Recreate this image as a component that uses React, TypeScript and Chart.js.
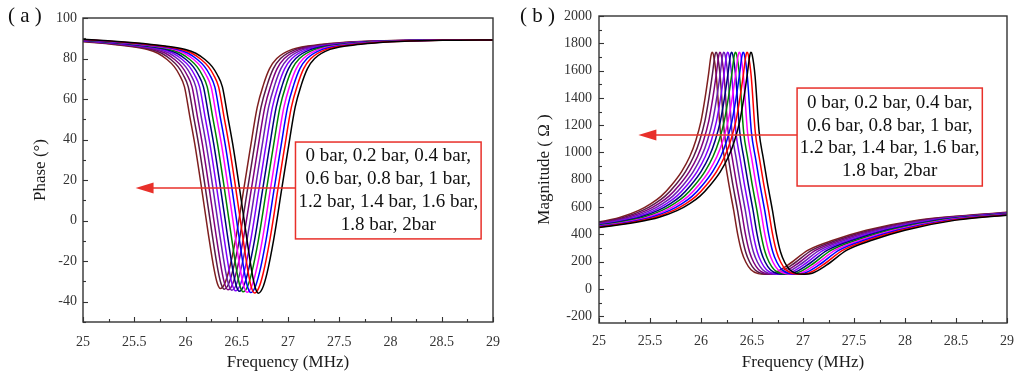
import React, { useEffect, useRef } from 'react';
import { Chart, registerables } from 'chart.js';

Chart.register(...registerables);

// ---------------- data ----------------
const PRESSURES = ['0 bar', '0.2 bar', '0.4 bar', '0.6 bar', '0.8 bar', '1 bar', '1.2 bar', '1.4 bar', '1.6 bar', '1.8 bar', '2 bar'];
const SERIES_COLORS = ['#000000', '#ff0000', '#0000ff', '#ff00ff', '#008000', '#000080', '#8000ff', '#6a1fb0', '#800080', '#5a1a4a', '#7f1f1f'];

// Phase panel (a): dip frequency (MHz) and dip depth (deg) of each pressure curve
const PHASE_DIP_FREQ = [26.71, 26.673, 26.636, 26.6, 26.562, 26.525, 26.488, 26.451, 26.414, 26.377, 26.34];
const PHASE_DIP_DEPTH = [-35.8, -35.7, -35.5, -35.3, -35.1, -34.8, -34.6, -34.3, -34.1, -33.8, -33.5];
// phase curve shape: offset from dip (MHz) -> phase (deg)
const PHASE_OFFSETS = [-1.95, -1.71, -1.21, -0.91, -0.71, -0.61, -0.52, -0.45, -0.40, -0.35, -0.30, -0.25, -0.18, -0.12, -0.06, -0.03, 0, 0.04, 0.085, 0.15, 0.23, 0.29, 0.36, 0.42, 0.48, 0.55, 0.7, 1.0, 1.3, 1.8, 2.3, 2.75];
const PHASE_PROFILE = [89.8, 89.5, 87.8, 86.2, 84.5, 82.6, 79.5, 76, 72, 66, 52, 38, 15, -6, -26, -33, -35.8, -33.5, -26, -9.5, 16, 35, 56, 67, 75, 80, 84.5, 87, 88.3, 89, 89.2, 89.3];

// Magnitude panel (b): peak frequency (MHz) of each pressure curve
const MAG_PEAK_FREQ = [26.49, 26.452, 26.414, 26.376, 26.338, 26.3, 26.262, 26.224, 26.186, 26.148, 26.11];
// magnitude curve shape: offset from peak (MHz) -> magnitude (ohm)
const MAG_OFFSETS = [-1.9, -1.49, -1.11, -0.9, -0.72, -0.6, -0.5, -0.4, -0.3, -0.22, -0.16, -0.11, -0.07, -0.035, -0.012, 0, 0.012, 0.04, 0.08, 0.12, 0.16, 0.21, 0.25, 0.29, 0.33, 0.38, 0.45, 0.52, 0.6, 0.74, 0.94, 1.2, 1.51, 2.01, 2.51, 2.95];
const MAG_PROFILE = [420, 450, 490, 525, 575, 625, 680, 760, 860, 970, 1090, 1230, 1400, 1580, 1710, 1735, 1715, 1560, 1150, 960, 780, 577, 400, 270, 195, 140, 112, 108, 115, 174, 284, 360, 430, 504, 540, 565];

const FREQ_TICKS = [25, 25.5, 26, 26.5, 27, 27.5, 28, 28.5, 29];
const PHASE_TICKS = [-40, -20, 0, 20, 40, 60, 80, 100];
const MAG_TICKS = [-200, 0, 200, 400, 600, 800, 1000, 1200, 1400, 1600, 1800, 2000];
const ANNOTATION_LINES = ['0 bar, 0.2 bar, 0.4 bar,', '0.6 bar, 0.8 bar, 1 bar,', '1.2 bar, 1.4 bar, 1.6 bar,', '1.8 bar, 2bar'];

// ---------------- styling ----------------
const FONT = "'Liberation Serif', 'Times New Roman', serif";
const AXIS_COLOR = '#333333';
const ANNOT_RED = '#e8302a';

const PHASE_MIN = Math.min(...PHASE_PROFILE);

function phaseDatasets() {
  return PRESSURES.map((p, i) => ({
    label: p,
    data: PHASE_OFFSETS.map((o, k) => {
      const v = PHASE_PROFILE[k];
      return { x: PHASE_DIP_FREQ[i] + o, y: v < 0 ? v * (PHASE_DIP_DEPTH[i] / PHASE_MIN) : v };
    }),
    borderColor: SERIES_COLORS[i],
    backgroundColor: SERIES_COLORS[i],
  }));
}

function magDatasets() {
  return PRESSURES.map((p, i) => ({
    label: p,
    data: MAG_OFFSETS.map((o, k) => ({ x: MAG_PEAK_FREQ[i] + o, y: MAG_PROFILE[k] })),
    borderColor: SERIES_COLORS[i],
    backgroundColor: SERIES_COLORS[i],
  }));
}

const decorPlugin = {
  id: 'decor',
  afterDatasetsDraw(chart: any, _args: any, opts: any) {
    const { ctx, chartArea: a, scales } = chart;
    const x = scales.x;
    const y = scales.y;
    ctx.save();
    // ticks (inward)
    ctx.strokeStyle = AXIS_COLOR;
    ctx.lineWidth = 1.1;
    const isMajor = (v: number, m: number) => Math.abs(v / m - Math.round(v / m)) < 1e-6;
    const nx = Math.round((x.max - x.min) / opts.xMinor);
    for (let k = 0; k <= nx; k++) {
      const v = x.min + k * opts.xMinor;
      const px = Math.round(x.getPixelForValue(v)) + 0.5;
      const len = isMajor(v, opts.xMajor) ? 5 : 3;
      ctx.beginPath();
      ctx.moveTo(px, a.bottom);
      ctx.lineTo(px, a.bottom - len);
      ctx.stroke();
    }
    const ny = Math.round((y.max - opts.yStart) / opts.yMinor);
    for (let k = 0; k <= ny; k++) {
      const v = opts.yStart + k * opts.yMinor;
      const py = Math.round(y.getPixelForValue(v)) + 0.5;
      const len = isMajor(v, opts.yMajor) ? 5 : 3;
      ctx.beginPath();
      ctx.moveTo(a.left, py);
      ctx.lineTo(a.left + len, py);
      ctx.stroke();
    }
    // frame
    ctx.lineWidth = 1.4;
    ctx.strokeRect(a.left, a.top, a.right - a.left, a.bottom - a.top);

    // annotation box + arrow
    const b = opts.box;
    const bx0 = x.getPixelForValue(b.x0);
    const bx1 = x.getPixelForValue(b.x1);
    const by0 = y.getPixelForValue(b.y0);
    const by1 = y.getPixelForValue(b.y1);
    ctx.fillStyle = '#ffffff';
    ctx.fillRect(bx0, by0, bx1 - bx0, by1 - by0);
    ctx.strokeStyle = ANNOT_RED;
    ctx.lineWidth = 1.5;
    ctx.strokeRect(bx0, by0, bx1 - bx0, by1 - by0);
    const ay = y.getPixelForValue(b.arrowY);
    const ax = x.getPixelForValue(b.arrowX);
    ctx.beginPath();
    ctx.moveTo(bx0, ay);
    ctx.lineTo(ax + 14, ay);
    ctx.stroke();
    ctx.fillStyle = ANNOT_RED;
    ctx.beginPath();
    ctx.moveTo(ax, ay);
    ctx.lineTo(ax + 18, ay - 5.5);
    ctx.lineTo(ax + 18, ay + 5.5);
    ctx.closePath();
    ctx.fill();

    ctx.fillStyle = '#111111';
    ctx.font = `19px ${FONT}`;
    ctx.textAlign = 'center';
    ctx.textBaseline = 'middle';
    const cx = (bx0 + bx1) / 2;
    const cy = (by0 + by1) / 2;
    ANNOTATION_LINES.forEach((t, i) => {
      ctx.fillText(t, cx, cy + (i - (ANNOTATION_LINES.length - 1) / 2) * 22.7);
    });

    // panel label
    ctx.textAlign = 'left';
    ctx.font = `21px ${FONT}`;
    ctx.fillText(opts.label, 8, 16);
    ctx.restore();
  },
};

function buildConfig(c: any): any {
  return {
    type: 'line',
    data: { datasets: c.datasets },
    options: {
      animation: false,
      responsive: false,
      maintainAspectRatio: false,
      layout: { padding: c.padding },
      elements: {
        point: { radius: 0, hoverRadius: 0 },
        line: { borderWidth: 1.5, cubicInterpolationMode: 'monotone' },
      },
      plugins: {
        legend: { display: false },
        tooltip: { enabled: false },
        decor: c.decor,
      },
      scales: {
        x: {
          type: 'linear',
          min: 25,
          max: 29,
          afterBuildTicks: (s: any) => {
            s.ticks = FREQ_TICKS.map((v) => ({ value: v }));
          },
          afterFit: (s: any) => {
            s.height = c.xHeight;
          },
          grid: { display: false, drawTicks: false },
          border: { display: false },
          ticks: {
            padding: c.xLabelPad,
            color: AXIS_COLOR,
            font: { family: FONT, size: 14 },
            maxRotation: 0,
            autoSkip: false,
            callback: (v: any) => String(v),
          },
          title: {
            display: true,
            text: 'Frequency (MHz)',
            color: '#1a1a1a',
            font: { family: FONT, size: 17 },
            padding: { top: 0, bottom: 5 },
          },
        },
        y: {
          type: 'linear',
          min: c.yMin,
          max: c.yMax,
          afterBuildTicks: (s: any) => {
            s.ticks = c.yTicks.map((v: number) => ({ value: v }));
          },
          afterFit: (s: any) => {
            s.width = c.yWidth;
          },
          grid: { display: false, drawTicks: false },
          border: { display: false },
          ticks: {
            padding: c.yLabelPad,
            color: AXIS_COLOR,
            font: { family: FONT, size: 14 },
            autoSkip: false,
            callback: (v: any) => String(v),
          },
          title: {
            display: true,
            text: c.yTitle,
            color: '#1a1a1a',
            font: { family: FONT, size: 17 },
            padding: { top: c.yTitlePad, bottom: 0 },
          },
        },
      },
    },
    plugins: [decorPlugin],
  };
}

function Panel({ left, config }: { left: number; config: () => any }) {
  const ref = useRef<HTMLCanvasElement>(null);
  useEffect(() => {
    const chart = new Chart(ref.current as HTMLCanvasElement, config());
    return () => chart.destroy();
  }, []);
  return (
    <canvas
      ref={ref}
      width={512}
      height={378}
      style={{ position: 'absolute', left, top: 0, width: 512, height: 378, display: 'block' }}
    />
  );
}

const phaseConfig = () =>
  buildConfig({
    datasets: phaseDatasets(),
    padding: { top: 18, right: 16, left: 0, bottom: 0 },
    xHeight: 56,
    yWidth: 83,
    xLabelPad: 12,
    yLabelPad: 6,
    yMin: -50,
    yMax: 100,
    yTicks: PHASE_TICKS,
    yTitle: 'Phase (°)',
    yTitlePad: 30,
    decor: {
      label: '( a )',
      xMinor: 0.25,
      xMajor: 0.5,
      yStart: -50,
      yMinor: 10,
      yMajor: 20,
      box: { x0: 27.073, x1: 28.884, y0: 38.8, y1: -9.0, arrowX: 25.513, arrowY: 16.1 },
    },
  });

const magConfig = () =>
  buildConfig({
    datasets: magDatasets(),
    padding: { top: 16, right: 11, left: 0, bottom: 0 },
    xHeight: 55,
    yWidth: 87,
    xLabelPad: 10,
    yLabelPad: 7,
    yMin: -250,
    yMax: 2000,
    yTicks: MAG_TICKS,
    yTitle: 'Magnitude ( Ω )',
    yTitlePad: 22,
    decor: {
      label: '( b )',
      xMinor: 0.25,
      xMajor: 0.5,
      yStart: -200,
      yMinor: 100,
      yMajor: 200,
      box: { x0: 26.942, x1: 28.758, y0: 1472, y1: 754, arrowX: 25.386, arrowY: 1128 },
    },
  });

export default function App() {
  return (
    <div style={{ position: 'fixed', left: 0, top: 0, width: 1024, height: 378, background: '#ffffff', overflow: 'hidden' }}>
      <Panel left={0} config={phaseConfig} />
      <Panel left={512} config={magConfig} />
    </div>
  );
}
